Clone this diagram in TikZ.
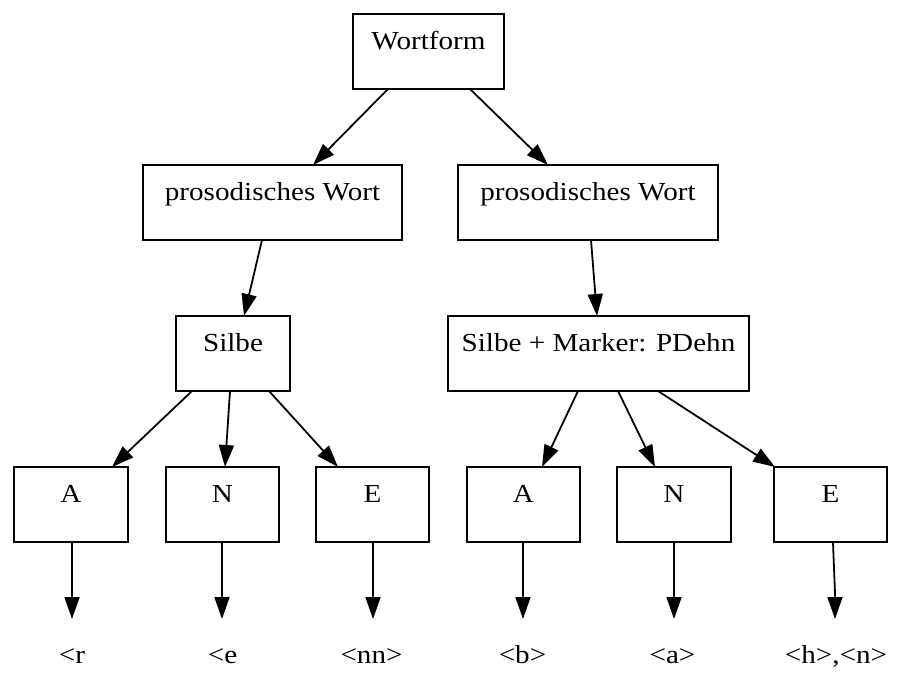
\documentclass[tikz,border=0pt]{standalone}
\usepackage{fontspec}
\setmainfont{Liberation Serif}[FakeStretch=1.12]
\usetikzlibrary{arrows.meta,calc}
\begin{document}
\begin{tikzpicture}[x=1pt,y=-1pt,
  every node/.style={font=\fontsize{26}{30}\selectfont},
  box/.style={draw, line width=1.8pt, inner sep=0pt, outer sep=0pt,
    text height=35pt, text depth=40pt, minimum height=75pt},
  leaf/.style={inner xsep=0pt, inner ysep=26pt, outer sep=0pt,
    text height=18pt, text depth=5pt},
  arr/.style={line width=1.8pt, -{Triangle[length=22pt,width=15pt]}}]
\useasboundingbox (0,0) rectangle (904,697);

% tree levels
\node[box, minimum width=151pt] (wf) at (428.5,51.5) {Wortform};
\node[box, minimum width=259pt] (pw1) at (272.5,202.5) {prosodisches Wort};
\node[box, minimum width=260pt] (pw2) at (588,202.5) {prosodisches Wort};
\node[box, minimum width=114pt] (s1) at (233,353.5) {Silbe};
\node[box, minimum width=301pt] (s2) at (598.5,353.5) {Silbe + Marker: PDehn};
\node[box, minimum width=114pt] (a1) at (71,504.5) {A};
\node[box, minimum width=113pt] (n1) at (222.5,504.5) {N};
\node[box, minimum width=113pt] (e1) at (372.5,504.5) {E};
\node[box, minimum width=113pt] (a2) at (523.5,504.5) {A};
\node[box, minimum width=114pt] (n2) at (674,504.5) {N};
\node[box, minimum width=113pt] (e2) at (830.5,504.5) {E};

% graphemes
\node[leaf] (g1) at (72,656.5) {\textless r};
\node[leaf] (g2) at (222.5,656.5) {\textless e};
\node[leaf] (g3) at (371.5,656.5) {\textless nn\textgreater};
\node[leaf] (g4) at (522.5,656.5) {\textless b\textgreater};
\node[leaf] (g5) at (672.5,656.5) {\textless a\textgreater};
\node[leaf] (g6) at (836,656.5) {\textless h\textgreater,\textless n\textgreater};

% edges between levels
\draw[arr] ($(wf.south)+(-40.5,0)$) -- ($(pw1.north)+(40.5,0)$);
\draw[arr] ($(wf.south)+(41.5,0)$) -- ($(pw2.north)+(-40,0)$);
\draw[arr] ($(pw1.south)+(-10.5,0)$) -- ($(s1.north)+(11,0)$);
\draw[arr] ($(pw2.south)+(3,0)$) -- ($(s2.north)+(-1.5,0)$);
\draw[arr] ($(s1.south)+(-41,0)$) -- ($(a1.north)+(41,0)$);
\draw[arr] ($(s1.south)+(-3,0)$) -- ($(n1.north)+(2.5,0)$);
\draw[arr] ($(s1.south)+(36,0)$) -- ($(e1.north)+(-34.5,0)$);
\draw[arr] ($(s2.south)+(-20.5,0)$) -- ($(a2.north)+(18.5,0)$);
\draw[arr] ($(s2.south)+(19.5,0)$) -- ($(n2.north)+(-19,0)$);
\draw[arr] ($(s2.south)+(59.5,0)$) -- ($(e2.north)+(-55.5,0)$);

% edges to graphemes
\draw[arr] ($(a1.south)+(1,0)$) -- (g1.north);
\draw[arr] ($(n1.south)+(-0.5,0)$) -- ($(g2.north)+(-0.5,0)$);
\draw[arr] ($(e1.south)+(0.5,0)$) -- ($(g3.north)+(1.5,0)$);
\draw[arr] ($(a2.south)+(-0.5,0)$) -- ($(g4.north)+(0.5,0)$);
\draw[arr] (n2.south) -- ($(g5.north)+(1.5,0)$);
\draw[arr] ($(e2.south)+(2.5,0)$) to[out=-88,in=90] ($(g6.north)+(-1,0)$);
\end{tikzpicture}
\end{document}
